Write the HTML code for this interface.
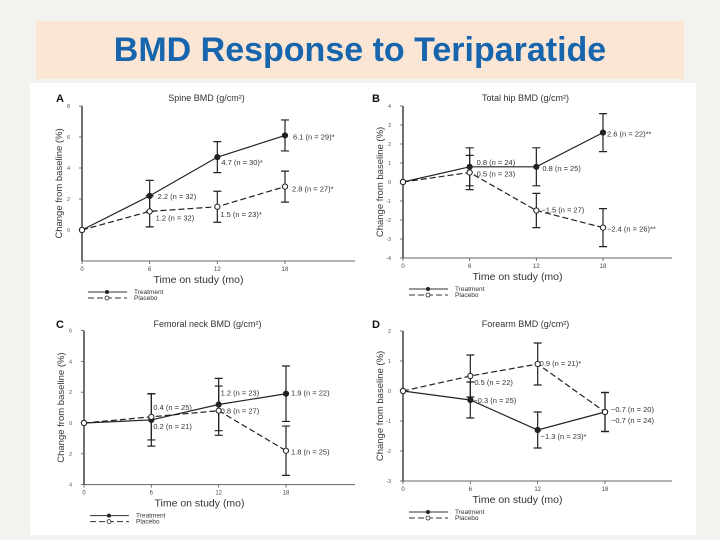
<!DOCTYPE html>
<html><head><meta charset="utf-8">
<style>
html,body{margin:0;padding:0;background:#f3f2ee;}
#wrap{position:relative;width:720px;height:540px;overflow:hidden;font-family:"Liberation Sans",sans-serif;}
#titlebox{position:absolute;left:36px;top:21px;width:648px;height:58px;background:#fbe6d6;}
#title{position:absolute;left:0;top:0;width:648px;height:58px;line-height:58px;text-align:center;color:#1766ad;font-weight:bold;font-size:34px;}
#fig{position:absolute;left:30px;top:83px;width:666px;height:452px;background:#fff;}
svg{position:absolute;left:0;top:0;}
</style></head>
<body>
<div id="wrap">
  <div id="titlebox">
    <div id="title">BMD Response to Teriparatide</div>
  </div>
  <div id="fig"></div>
  <svg id="chart" width="720" height="540"></svg>
</div>
<script>
// Shared
const months = [0, 6, 12, 18];
// Panel A - Spine
const aTreat = [0, 2.2, 4.7, 6.1];
const aPlac = [0, 1.2, 1.5, 2.8];
const aTreatErr = [0, 1, 1, 1];
const aPlacErr = [0, 1, 1, 1];
const aTreatLabels = ["", "2.2 (n = 32)", "4.7 (n = 30)*", "6.1 (n = 29)*"];
const aPlacLabels = ["", "1.2 (n = 32)", "1.5 (n = 23)*", "2.8 (n = 27)*"];
const aYTicks = [0, 2, 4, 6, 8];
const aYTickLabels = ["0", "2", "4", "6", "8"];
// Panel B - Total hip
const bTreat = [0, 0.8, 0.8, 2.6];
const bPlac = [0, 0.5, -1.5, -2.4];
const bTreatErr = [0, 1, 1, 1];
const bPlacErr = [0, 0.9, 0.9, 1];
const bTreatLabels = ["", "0.8 (n = 24)", "0.8 (n = 25)", "2.6 (n = 22)**"];
const bPlacLabels = ["", "0.5 (n = 23)", "\u22121.5 (n = 27)", "\u22122.4 (n = 26)**"];
const bYTicks = [-4, -3, -2, -1, 0, 1, 2, 3, 4];
const bYTickLabels = ["-4", "-3", "-2", "-1", "0", "1", "2", "3", "4"];
// Panel C - Femoral neck
const cTreat = [0, 0.2, 1.2, 1.9];
const cPlac = [0, 0.4, 0.8, -1.8];
const cTreatErr = [0, 1.7, 1.7, 1.8];
const cPlacErr = [0, 1.5, 1.6, 1.6];
const cTreatLabels = ["", "0.2 (n = 21)", "1.2 (n = 23)", "1.9 (n = 22)"];
const cPlacLabels = ["", "0.4 (n = 25)", "0.8 (n = 27)", "1.8 (n = 25)"];
const cYTicks = [-4, -2, 0, 2, 4, 6];
const cYTickLabels = ["4", "2", "0", "2", "4", "6"];
// Panel D - Forearm
const dTreat = [0, -0.3, -1.3, -0.7];
const dPlac = [0, 0.5, 0.9, -0.7];
const dTreatErr = [0, 0.6, 0.6, 0.65];
const dPlacErr = [0, 0.7, 0.7, 0.65];
const dTreatLabels = ["", "\u22120.3 (n = 25)", "\u22121.3 (n = 23)*", "\u22120.7 (n = 24)"];
const dPlacLabels = ["", "0.5 (n = 22)", "0.9 (n = 21)*", "\u22120.7 (n = 20)"];
const dYTicks = [-3, -2, -1, 0, 1, 2];
const dYTickLabels = ["-3", "-2", "-1", "0", "1", "2"];
const xTickLabels = ["0", "6", "12", "18"];

const NS = "http://www.w3.org/2000/svg";
const svg = document.getElementById("chart");
function mk(tag, attrs, parent) {
  const e = document.createElementNS(NS, tag);
  for (const k in attrs) e.setAttribute(k, attrs[k]);
  (parent || svg).appendChild(e);
  return e;
}
function txt(s, x, y, size, parent, extra) {
  const t = mk("text", Object.assign({x: x, y: y, "font-size": size, fill: "#333", "font-family": "Liberation Sans, sans-serif"}, extra || {}), parent);
  t.textContent = s;
  return t;
}

function panel(cfg) {
  const g = mk("g", {});
  
  
  const X = m => cfg.x0 + (m / 18) * (cfg.x18 - cfg.x0);
  const Y = v => cfg.zeroY - v * cfg.ppu;
  const yBot = Y(cfg.yMin), yTop = Y(cfg.yMax);
  const ya = mk("line", {x1: cfg.x0, y1: yTop, x2: cfg.x0, y2: yBot, stroke: "#333", "stroke-width": 1.4}, g);
  
  
  const xa = mk("line", {x1: cfg.x0, y1: yBot, x2: cfg.xRight, y2: yBot, stroke: "#666", "stroke-width": 1}, g);
  
  
  cfg.yTicks.forEach((v, i) => {
    mk("line", {x1: cfg.x0 - 3, y1: Y(v), x2: cfg.x0, y2: Y(v), stroke: "#555", "stroke-width": 0.8}, g);
    const t = txt(cfg.yTickLabels[i], cfg.x0 - 12, Y(v) + 2, 5.5, g, {"text-anchor": "end", fill: "#555"});
    
    
  });
  months.forEach((m, i) => {
    mk("line", {x1: X(m), y1: yBot, x2: X(m), y2: yBot + 3, stroke: "#555", "stroke-width": 0.8}, g);
    const t = txt(xTickLabels[i], X(m), yBot + 10, 6, g, {"text-anchor": "middle", fill: "#444"});
    
    
  });
  const lt = txt(cfg.letter, cfg.letterX, cfg.titleY + 1, 11, g, {"font-weight": "bold", fill: "#111"});
  
  
  const tt = txt(cfg.title, (cfg.x0 + cfg.xRight) / 2 - 12, cfg.titleY, 9, g, {"text-anchor": "middle", fill: "#333"});
  
  
  const yt = txt("Change from baseline (%)", 0, 0, 9.5, g, {"text-anchor": "middle", fill: "#333", transform: "translate(" + (cfg.x0 - 20) + "," + ((yTop + yBot) / 2) + ") rotate(-90)"});
  
  
  const xt = txt("Time on study (mo)", (cfg.x0 + cfg.xRight) / 2 - 20, yBot + 22, 10.5, g, {"text-anchor": "middle", fill: "#333"});
  
  

  function series(vals, errs, labels, offs, dashed, filled, sname) {
    const pts = months.map((m, i) => X(m) + "," + Y(vals[i])).join(" ");
    const pl = mk("polyline", {points: pts, fill: "none", stroke: "#222", "stroke-width": 1.2, "stroke-dasharray": dashed ? "6,3" : "none"}, g);
    
    
    months.forEach((m, i) => {
      const x = X(m), y = Y(vals[i]);
      if (errs[i] > 0) {
        const eb = mk("path", {d: "M" + (x - 4) + "," + Y(vals[i] + errs[i]) + "H" + (x + 4) + "M" + x + "," + Y(vals[i] + errs[i]) + "V" + Y(vals[i] - errs[i]) + "M" + (x - 4) + "," + Y(vals[i] - errs[i]) + "H" + (x + 4), stroke: "#222", "stroke-width": 1.2, fill: "none"}, g);
        
        
      }
      const c = mk("circle", {cx: x, cy: y, r: 2.6, fill: filled ? "#222" : "#fff", stroke: "#222", "stroke-width": 1}, g);
      
      
      if (labels[i]) {
        const lb = txt(labels[i], x + offs[i][0], y + offs[i][1], 7.5, g, {fill: "#333"});
        
        
      }
    });
  }
  series(cfg.treat, cfg.treatErr, cfg.treatLabels, cfg.treatOff, false, true, "treatment");
  series(cfg.plac, cfg.placErr, cfg.placLabels, cfg.placOff, true, false, "placebo");

  const ly = yBot + 31;
  const l1 = mk("line", {x1: cfg.x0 + 6, y1: ly, x2: cfg.x0 + 45, y2: ly, stroke: "#333", "stroke-width": 1}, g);
  
  
  mk("circle", {cx: cfg.x0 + 25, cy: ly, r: 2, fill: "#222"}, g);
  const lt1 = txt("Treatment", cfg.x0 + 52, ly + 2, 6.5, g);
  
  
  const l2 = mk("line", {x1: cfg.x0 + 6, y1: ly + 6, x2: cfg.x0 + 45, y2: ly + 6, stroke: "#333", "stroke-width": 1, "stroke-dasharray": "6,3"}, g);
  
  
  mk("circle", {cx: cfg.x0 + 25, cy: ly + 6, r: 2, fill: "#fff", stroke: "#222", "stroke-width": 0.8}, g);
  const lt2 = txt("Placebo", cfg.x0 + 52, ly + 8, 6.5, g);
  
  
}

panel({name: "panel-a-spine", letter: "A", letterX: 56, title: "Spine BMD (g/cm\u00B2)", titleY: 101,
  x0: 82, x18: 285, xRight: 355, zeroY: 230, ppu: 15.5, yMin: -2, yMax: 8,
  yTicks: aYTicks, yTickLabels: aYTickLabels,
  treat: aTreat, plac: aPlac, treatErr: aTreatErr, placErr: aPlacErr,
  treatLabels: aTreatLabels, placLabels: aPlacLabels,
  treatOff: [[0,0],[8,3],[4,8],[8,4]], placOff: [[0,0],[6,9],[3,10],[7,5]]});
panel({name: "panel-b-total-hip", letter: "B", letterX: 372, title: "Total hip BMD (g/cm\u00B2)", titleY: 101,
  x0: 403, x18: 603, xRight: 672, zeroY: 182, ppu: 19, yMin: -4, yMax: 4,
  yTicks: bYTicks, yTickLabels: bYTickLabels,
  treat: bTreat, plac: bPlac, treatErr: bTreatErr, placErr: bPlacErr,
  treatLabels: bTreatLabels, placLabels: bPlacLabels,
  treatOff: [[0,0],[7,-2],[6,4],[4,4]], placOff: [[0,0],[7,4],[5,2],[4,4]]});
panel({name: "panel-c-femoral-neck", letter: "C", letterX: 56, title: "Femoral neck BMD (g/cm\u00B2)", titleY: 327,
  x0: 84, x18: 286, xRight: 355, zeroY: 423, ppu: 15.4, yMin: -4, yMax: 6,
  yTicks: cYTicks, yTickLabels: cYTickLabels,
  treat: cTreat, plac: cPlac, treatErr: cTreatErr, placErr: cPlacErr,
  treatLabels: cTreatLabels, placLabels: cPlacLabels,
  treatOff: [[0,0],[2,9],[2,-9],[5,2]], placOff: [[0,0],[2,-7],[2,3],[5,4]]});
panel({name: "panel-d-forearm", letter: "D", letterX: 372, title: "Forearm BMD (g/cm\u00B2)", titleY: 327,
  x0: 403, x18: 605, xRight: 672, zeroY: 391, ppu: 30, yMin: -3, yMax: 2,
  yTicks: dYTicks, yTickLabels: dYTickLabels,
  treat: dTreat, plac: dPlac, treatErr: dTreatErr, placErr: dPlacErr,
  treatLabels: dTreatLabels, placLabels: dPlacLabels,
  treatOff: [[0,0],[3,3],[3,9],[6,11]], placOff: [[0,0],[4,9],[2,2],[6,0]]});
</script>
</body></html>
